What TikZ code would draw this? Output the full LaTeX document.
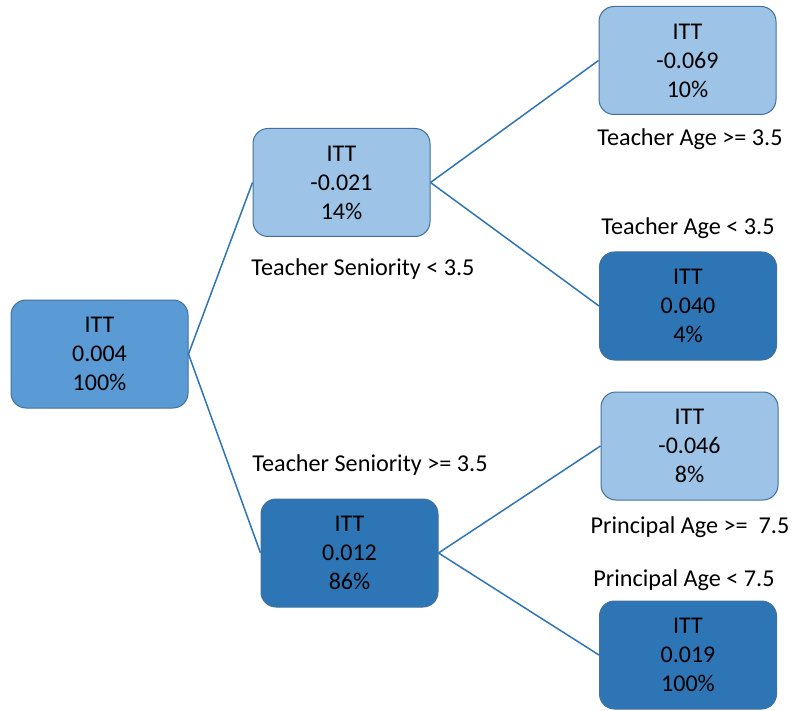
\documentclass[tikz,border=0pt]{standalone}
\usepackage{fontspec}
\setmainfont{Carlito}
\definecolor{rootfill}{HTML}{5B9BD5}
\definecolor{lightfill}{HTML}{9DC3E6}
\definecolor{darkfill}{HTML}{2E75B6}
\definecolor{boxborder}{HTML}{41719C}
\definecolor{edgecol}{HTML}{2E75B6}
\begin{document}
\begin{tikzpicture}[x=1pt,y=-1pt,
  treebox/.style={draw=boxborder, line width=1pt, rounded corners=15pt,
    minimum width=177pt, minimum height=108pt, align=center,
    font=\fontsize{24}{29}\selectfont, inner sep=0pt},
  rootbox/.style={treebox, fill=rootfill},
  lightbox/.style={treebox, fill=lightfill},
  darkbox/.style={treebox, fill=darkfill},
  edge/.style={draw=edgecol, line width=1.5pt},
  cond/.style={font=\fontsize{24.2}{28}\selectfont, inner sep=0pt}]
\useasboundingbox (0,0) rectangle (792,711);
\node[rootbox]  (root) at (99.5,354)  {ITT\\0.004\\100\%};
\node[lightbox] (a)    at (341.5,182.5) {ITT\\-0.021\\14\%};
\node[darkbox]  (b)    at (349.5,553) {ITT\\0.012\\86\%};
\node[lightbox] (c)    at (687.5,60.5) {ITT\\-0.069\\10\%};
\node[darkbox]  (d)    at (688,306)   {ITT\\0.040\\4\%};
\node[lightbox] (e)    at (689.5,446) {ITT\\-0.046\\8\%};
\node[darkbox]  (f)    at (688,655)   {ITT\\0.019\\100\%};
\draw[edge] (root.east) -- (a.west);
\draw[edge] (root.east) -- (b.west);
\draw[edge] (a.east) -- (c.west);
\draw[edge] (a.east) -- (d.west);
\draw[edge] (b.east) -- (e.west);
\draw[edge] (b.east) -- (f.west);
\node[cond] (la) at (363,269) {Teacher Seniority < 3.5};
\node[cond] (lb) at (370,465) {Teacher Seniority >= 3.5};
\node[cond] (lc) at (690,139) {Teacher Age >= 3.5};
\node[cond] (ld) at (688,228) {Teacher Age < 3.5};
\node[cond] (le) at (690,527) {Principal Age >=~~7.5};
\node[cond] (lf) at (684,580) {Principal Age < 7.5};
\end{tikzpicture}
\end{document}
